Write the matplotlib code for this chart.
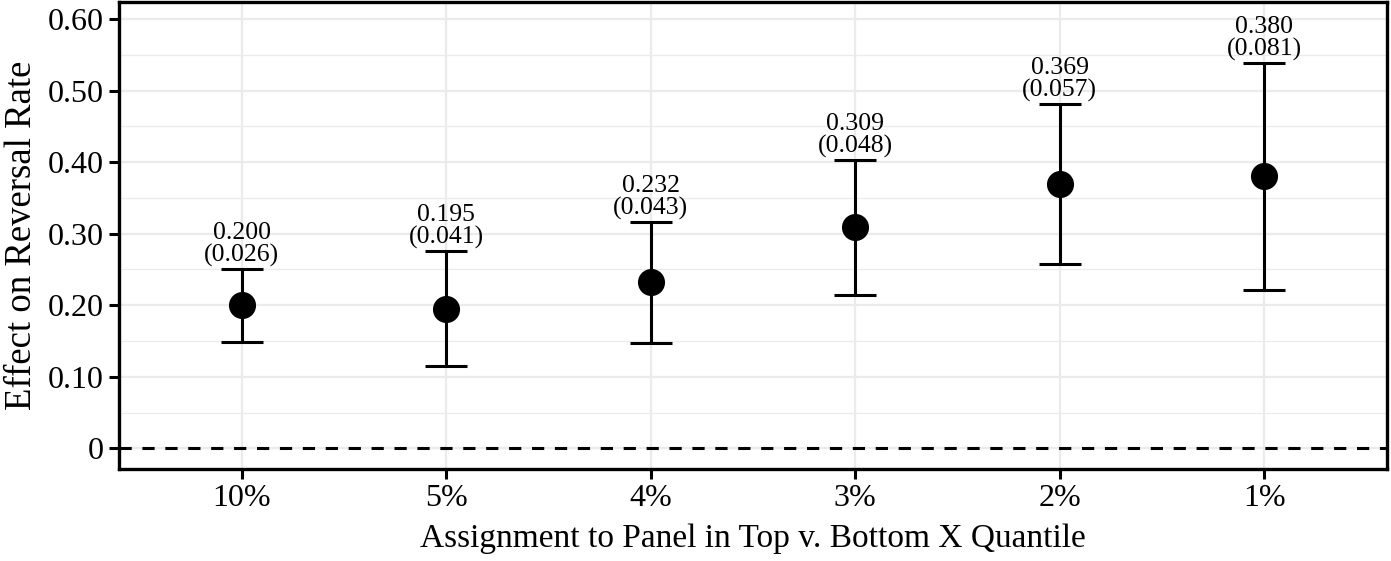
import numpy as np
import matplotlib
matplotlib.use("Agg")
import matplotlib.pyplot as plt

# estimations et erreurs standard
quantiles = ["10%", "5%", "4%", "3%", "2%", "1%"]
estimates = [0.200, 0.195, 0.232, 0.309, 0.369, 0.380]
std_errs = [0.026, 0.041, 0.043, 0.048, 0.057, 0.081]

yticks = [0, 0.10, 0.20, 0.30, 0.40, 0.50, 0.60]
ytick_labels = ["0", "0.10", "0.20", "0.30", "0.40", "0.50", "0.60"]

plt.rcParams["font.family"] = ["Liberation Serif", "DejaVu Serif"]

est = np.array(estimates)
se = np.array(std_errs)
half = 1.96 * se  # IC 95 %
x = np.arange(1, len(quantiles) + 1)

fig = plt.figure(figsize=(13.91, 5.61), dpi=100)
ax = fig.add_axes([119 / 1391, 1 - 469 / 561, (1387 - 119) / 1391, (469 - 2) / 561])

# grille façon theme_bw
ax.set_yticks(np.arange(0.05, 0.65, 0.10), minor=True)
ax.grid(True, which="major", color="#EBEBEB", lw=1.6, zorder=0)
ax.grid(True, which="minor", axis="y", color="#EBEBEB", lw=0.9, zorder=0)
ax.tick_params(axis="y", which="minor", length=0)

ax.axhline(0, color="black", lw=2.2, ls=(0, (4, 3.5)), zorder=2)

ax.errorbar(x, est, yerr=half, fmt="o", color="black", ms=18.5,
            elinewidth=2.2, capsize=15, capthick=2.2, zorder=3)

for xi, e, s, h in zip(x, est, se, half):
    ax.text(xi, e + h + 0.003, f"{e:.3f}\n({s:.3f})", ha="center", va="bottom",
            fontsize=18.5, linespacing=1.0, zorder=4)

ax.set_xlim(0.4, 6.6)
ax.set_ylim(-0.029, 0.624)
ax.set_xticks(x)
ax.set_xticklabels(quantiles)
ax.set_yticks(yticks)
ax.set_yticklabels(ytick_labels)
ax.tick_params(axis="both", which="major", labelsize=23, length=7, width=2.2,
               color="black", pad=4)

for sp in ax.spines.values():
    sp.set_linewidth(2.4)
    sp.set_color("black")

ax.set_xlabel("Assignment to Panel in Top v. Bottom X Quantile", fontsize=24, labelpad=7)
ax.set_ylabel("Effect on Reversal Rate", fontsize=26.5, labelpad=6)

fig.savefig("out.png", dpi=100)
